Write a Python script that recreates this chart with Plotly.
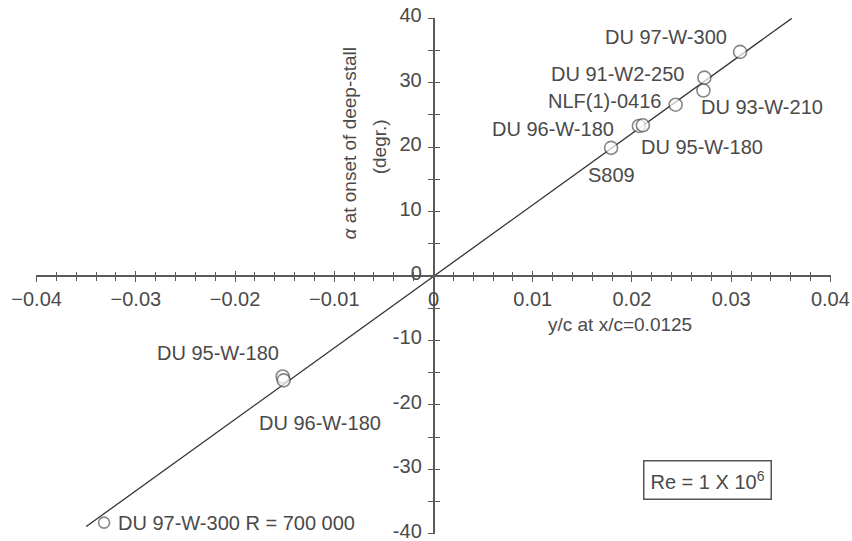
import plotly.graph_objects as go

# ---- data ----
airfoils = ["DU 97-W-300", "DU 91-W2-250", "DU 93-W-210", "NLF(1)-0416",
            "DU 96-W-180", "DU 95-W-180", "S809",
            "DU 95-W-180", "DU 96-W-180", "DU 97-W-300 R = 700 000"]
y_over_c = [0.0309, 0.0273, 0.0272, 0.0244, 0.0207, 0.0211, 0.0179,
            -0.0152, -0.0151, -0.0332]
alpha_ds = [34.8, 30.8, 28.8, 26.6, 23.3, 23.4, 19.9,
            -15.6, -16.2, -38.3]

fit_x = [-0.0350, 0.0361]
fit_y = [-38.9, 40.0]

x_tick_vals = [-0.04, -0.03, -0.02, -0.01, 0, 0.01, 0.02, 0.03, 0.04]
x_tick_text = ["\u22120.04", "\u22120.03", "\u22120.02", "\u22120.01", "0",
               "0.01", "0.02", "0.03", "0.04"]
y_tick_vals = [-40, -30, -20, -10, 0, 10, 20, 30, 40]
y_tick_text = ["-40", "-30", "-20", "-10", "0", "10", "20", "30", "40"]

# ---- style ----
FONT = "Liberation Sans, Arial, sans-serif"
TXT = "#4a4a4a"
AX = "#5a5a5a"

# label anchor positions (layout, in data coords)
label_pos = [(0.0234, 37.1, "center"), (0.01857, 31.3, "center"),
             (0.03306, 26.2, "center"), (0.01726, 27.1, "center"),
             (0.01203, 22.9, "center"), (0.02702, 20.0, "center"),
             (0.01796, 15.7, "center"),
             (-0.02169, -11.9, "center"), (-0.01142, -22.9, "center"),
             (-0.03195, -38.3, "left")]
marker_sizes = [13, 13, 13, 13, 13, 13, 13, 13, 13, 11]

fig = go.Figure()

fig.add_trace(go.Scatter(
    x=fit_x, y=fit_y, mode="lines", xaxis="x2", yaxis="y2",
    line=dict(color="#333333", width=1.3), hoverinfo="skip", showlegend=False))

fig.add_trace(go.Scatter(
    x=y_over_c, y=alpha_ds, mode="markers", xaxis="x2", yaxis="y2",
    marker=dict(symbol="circle", size=marker_sizes, color="white",
                line=dict(color="#555555", width=1.6)),
    text=airfoils, showlegend=False, cliponaxis=False))

annotations = []
for name, (ax_, ay_, anc) in zip(airfoils, label_pos):
    annotations.append(dict(x=ax_, y=ay_, xref="x", yref="y", text=name,
                            showarrow=False, xanchor=anc, yanchor="middle",
                            font=dict(family=FONT, size=20, color=TXT)))

annotations += [
    dict(x=0.0188, y=-7.6, xref="x", yref="y", text="y/c at x/c=0.0125",
         showarrow=False, font=dict(family=FONT, size=19, color=TXT)),
    dict(x=-0.00850, y=20.6, xref="x", yref="y",
         text="<i>\u03b1</i> at onset of deep-stall", textangle=-90,
         showarrow=False, font=dict(family=FONT, size=19, color=TXT)),
    dict(x=-0.00548, y=20.0, xref="x", yref="y", text="(degr.)", textangle=-90,
         showarrow=False, font=dict(family=FONT, size=19, color=TXT)),
    dict(x=0.02762, y=-31.6, xref="x", yref="y",
         text="Re = 1 X 10<sup>6</sup>", showarrow=False,
         bordercolor="#555555", borderwidth=1.5, borderpad=6, bgcolor="white",
         font=dict(family=FONT, size=20, color=TXT)),
]

common_x = dict(range=[-0.04006, 0.04006], anchor="free", position=0.5,
                showgrid=False, zeroline=False, automargin=False,
                ticklabeloverflow="allow",
                tickcolor=AX, tickwidth=1.3, fixedrange=True)
common_y = dict(range=[-40.06, 40.06], anchor="free", position=0.5,
                showgrid=False, zeroline=False, automargin=False,
                ticklabeloverflow="allow",
                tickcolor=AX, tickwidth=1.3, fixedrange=True)

fig.update_layout(
    width=852, height=541,
    margin=dict(l=36, r=21, t=18, b=7, autoexpand=False),
    plot_bgcolor="white", paper_bgcolor="white",
    showlegend=False,
    font=dict(family=FONT, size=20, color=TXT),
    xaxis=dict(**common_x, showline=True, linecolor=AX, linewidth=1.5,
               tickmode="array", tickvals=x_tick_vals, ticktext=x_tick_text,
               ticks="outside", ticklen=5,
               tickfont=dict(family=FONT, size=20, color=TXT),
               minor=dict(dtick=0.002, tick0=0, ticks="outside", ticklen=4,
                          tickcolor=AX, tickwidth=1.3)),
    xaxis2=dict(**common_x, overlaying="x", showline=False,
                tickmode="array", tickvals=x_tick_vals, showticklabels=False,
                ticks="inside", ticklen=5,
                minor=dict(dtick=0.002, tick0=0, ticks="inside", ticklen=4,
                           tickcolor=AX, tickwidth=1.3)),
    yaxis=dict(**common_y, showline=True, linecolor=AX, linewidth=1.5,
               tickmode="array", tickvals=y_tick_vals, ticktext=y_tick_text,
               ticks="outside", ticklen=5, ticklabelstandoff=2,
               ticklabelshift=-3,
               tickfont=dict(family=FONT, size=20, color=TXT),
               minor=dict(dtick=5, tick0=0, ticks="outside", ticklen=5,
                          tickcolor=AX, tickwidth=1.3)),
    yaxis2=dict(**common_y, overlaying="y", showline=False,
                tickmode="array", tickvals=y_tick_vals, showticklabels=False,
                ticks="inside", ticklen=5,
                minor=dict(dtick=5, tick0=0, ticks="inside", ticklen=5,
                           tickcolor=AX, tickwidth=1.3)),
    annotations=annotations,
)

# remove the default page margin so the 852x541 figure fills the window exactly
fig.write_html("out.html",
               config={"displayModeBar": False},
               post_script="document.body.style.margin='0';"
                           "document.body.style.overflow='hidden';")
